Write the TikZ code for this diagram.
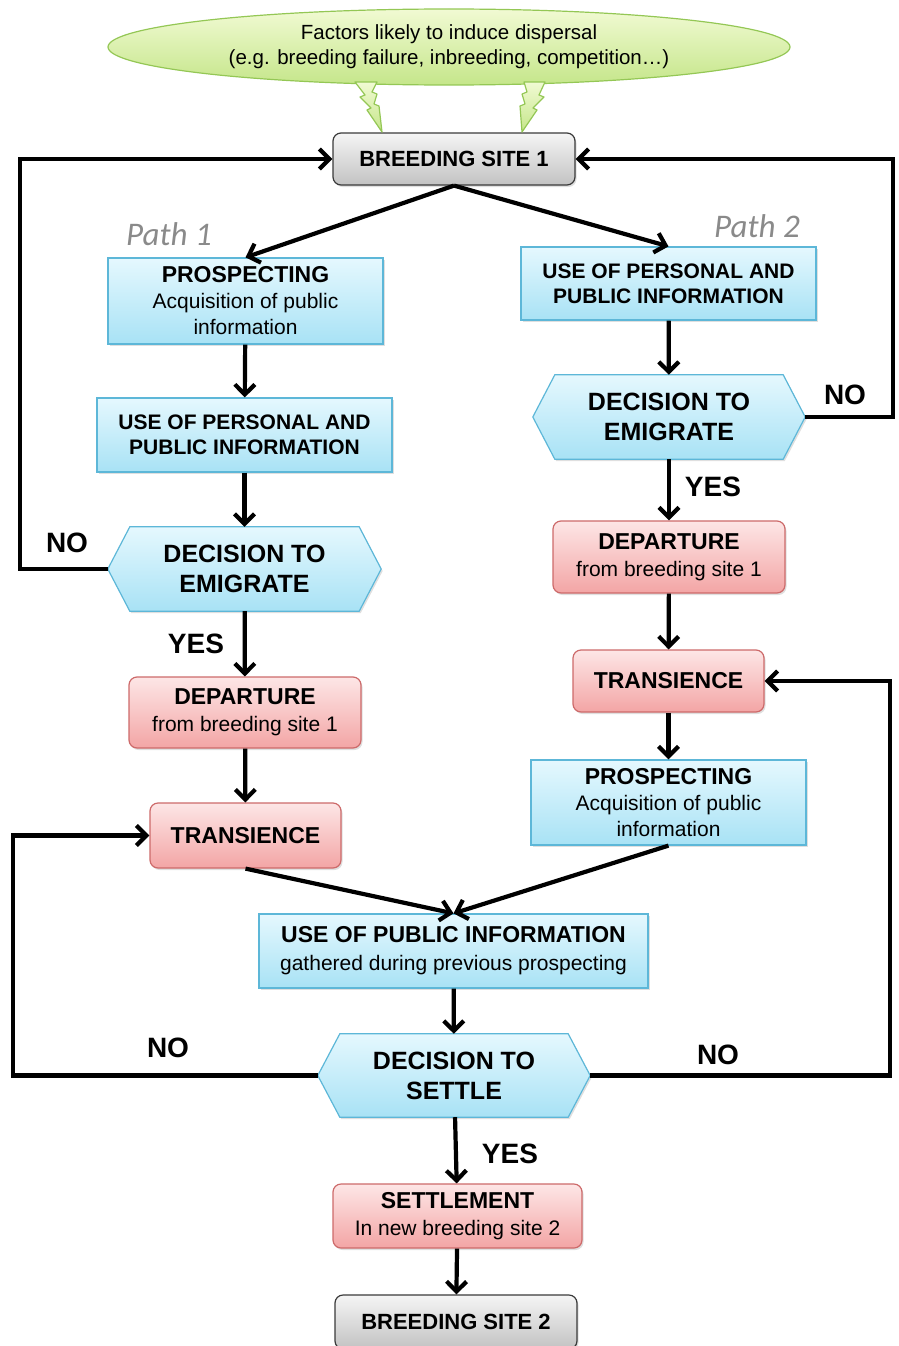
\documentclass[tikz,border=0pt]{standalone}
\usepackage{fontspec}
\setmainfont{Liberation Sans}
\newfontfamily\pathfont{Carlito}
\usetikzlibrary{arrows.meta,shadows,backgrounds,shapes.geometric}
\definecolor{bluetop}{HTML}{E5F8FE}
\definecolor{bluebot}{HTML}{A8E2F5}
\definecolor{blueline}{HTML}{5DB7D8}
\definecolor{pinktop}{HTML}{FDE6E6}
\definecolor{pinkbot}{HTML}{F3A5A5}
\definecolor{pinkline}{HTML}{CD6A6A}
\definecolor{greytop}{HTML}{F5F5F5}
\definecolor{greybot}{HTML}{C2C2C2}
\definecolor{greyline}{HTML}{3A3A3A}
\definecolor{greentop}{HTML}{F1FAD3}
\definecolor{greenbot}{HTML}{C5E68A}
\definecolor{greenline}{HTML}{94C755}
\definecolor{pathgrey}{HTML}{8A8A8A}
\newcommand\ttl[1]{{\fontsize{23}{26}\selectfont\bfseries #1}}
\newcommand\myhex[1]{%
  \shade[hexfill] (#1.west) -- ([xshift=22pt]#1.north west) -- ([xshift=-22pt]#1.north east)
   -- (#1.east) -- ([xshift=-22pt]#1.south east) -- ([xshift=22pt]#1.south west) -- cycle;}
\begin{document}
\begin{tikzpicture}[x=1pt,y=-1pt,
  arr/.style={line width=4.2pt, -{Straight Barb[length=10pt,width=20pt]}},
  shd/.style={drop shadow={opacity=0.25, shadow xshift=1.5pt, shadow yshift=-2pt}},
  basebox/.style={rectangle, inner sep=0pt, align=center, line width=1.2pt, shd,
    font=\fontsize{21}{26}\selectfont},
  bluebox/.style={basebox, draw=blueline, top color=bluetop, bottom color=bluebot},
  pinkbox/.style={basebox, draw=pinkline, top color=pinktop, bottom color=pinkbot, rounded corners=8pt},
  greybox/.style={basebox, draw=greyline, top color=greytop, bottom color=greybot, rounded corners=8pt,
    font=\fontsize{22}{26}\selectfont\bfseries},
  hexnode/.style={rectangle, inner sep=0pt, align=center, font=\fontsize{25}{30}\selectfont\bfseries},
  hexfill/.style={draw=blueline, line width=1.2pt, top color=bluetop, bottom color=bluebot, shd},
  lbl/.style={font=\fontsize{28}{30}\selectfont\bfseries, inner sep=0pt},
  pathlbl/.style={font=\pathfont\itshape\fontsize{33}{33}\selectfont, text=pathgrey, inner sep=0pt},
  bolt/.style={draw=greenline, line width=1.2pt, top color=greentop, bottom color=greenbot, line join=round}
]
\useasboundingbox (0,0) rectangle (898,1346);

% top factors
\node[ellipse, draw=greenline, line width=1.2pt, top color=greentop, bottom color=greenbot,
  minimum width=682pt, minimum height=76pt, inner sep=0pt, align=center,
  font=\fontsize{20.5}{25}\selectfont] (fac) at (449,47)
  {Factors likely to induce dispersal\\(e.g. breeding failure, inbreeding, competition…)};

\node[greybox, minimum width=242pt, minimum height=52pt] (bs1) at (454,159) {BREEDING SITE 1};

% lightning bolts
\shade[bolt] (382,132) -- (367,110) -- (371,108) -- (360,97) -- (365,95) -- (355,82)
  -- (377,82) -- (372,92) -- (377,94) -- (374,104) -- (379,106) -- cycle;
\shade[bolt] (522,132) -- (537,110) -- (533,108) -- (544,97) -- (539,95) -- (545,82)
  -- (524,82) -- (527,92) -- (522,94) -- (525,104) -- (520,106) -- cycle;

% path labels
\node[pathlbl] (path1) at (169,234) {Path 1};
\node[pathlbl] (path2) at (757,226) {Path 2};

% path 1
\node[bluebox, minimum width=275pt, minimum height=86pt] (p1pros) at (245.5,301)
  {\ttl{PROSPECTING}\\Acquisition of public\\information};
\node[bluebox, minimum width=295pt, minimum height=74pt, font=\fontsize{21}{25}\selectfont\bfseries] (p1use) at (244.5,435)
  {USE OF PERSONAL AND\\PUBLIC INFORMATION};
\node[hexnode, minimum width=273pt, minimum height=84pt] (p1dec) at (244.5,569) {DECISION TO\\EMIGRATE};
\node[pinkbox, minimum width=232pt, minimum height=71pt, font=\fontsize{21}{27}\selectfont] (p1dep) at (245,712.5)
  {\ttl{DEPARTURE}\\from breeding site 1};
\node[pinkbox, minimum width=191pt, minimum height=65pt] (p1tra) at (245.5,835.5) {\ttl{TRANSIENCE}};

% path 2
\node[bluebox, minimum width=295pt, minimum height=73pt, font=\fontsize{21}{25}\selectfont\bfseries] (p2use) at (668.5,283.5)
  {USE OF PERSONAL AND\\PUBLIC INFORMATION};
\node[hexnode, minimum width=272pt, minimum height=84pt] (p2dec) at (669,417) {DECISION TO\\EMIGRATE};
\node[pinkbox, minimum width=232pt, minimum height=72pt, font=\fontsize{21}{27}\selectfont] (p2dep) at (669,557)
  {\ttl{DEPARTURE}\\from breeding site 1};
\node[pinkbox, minimum width=191pt, minimum height=62pt] (p2tra) at (668.5,681) {\ttl{TRANSIENCE}};
\node[bluebox, minimum width=275pt, minimum height=85pt] (p2pros) at (668.5,802.5)
  {\ttl{PROSPECTING}\\Acquisition of public\\information};

% common
\node[bluebox, minimum width=389pt, minimum height=74pt, font=\fontsize{21}{28}\selectfont] (usepub) at (453.5,951)
  {\ttl{USE OF PUBLIC INFORMATION}\\gathered during previous prospecting};
\node[hexnode, minimum width=272pt, minimum height=83pt] (decset) at (454,1075.5) {DECISION TO\\SETTLE};
\node[pinkbox, minimum width=249pt, minimum height=64pt, font=\fontsize{21}{27}\selectfont] (settle) at (457.5,1216)
  {\ttl{SETTLEMENT}\\In new breeding site 2};
\node[greybox, minimum width=242pt, minimum height=54pt] (bs2) at (456,1322) {BREEDING SITE 2};

\begin{pgfonlayer}{background}
  \myhex{p1dec}
  \myhex{p2dec}
  \myhex{decset}
\end{pgfonlayer}

% loop coordinates
\coordinate (xL) at (20,0);
\coordinate (xLL) at (13,0);
\coordinate (xR) at (893,0);
\coordinate (xRR) at (890,0);

% connectors
\draw[arr] (bs1.south) -- (p1pros.north);
\draw[arr] (bs1.south) -- (p2use.north);
\draw[arr] (p1pros) -- (p1use);
\draw[arr] (p1use) -- (p1dec);
\draw[arr] (p1dec) -- (p1dep);
\draw[arr] (p1dep) -- (p1tra);
\draw[arr] (p2use) -- (p2dec);
\draw[arr] (p2dec) -- (p2dep);
\draw[arr] (p2dep) -- (p2tra);
\draw[arr] (p2tra) -- (p2pros);
\draw[arr] (p1tra.south) -- (usepub.north);
\draw[arr] (p2pros.south) -- (usepub.north);
\draw[arr] (usepub) -- (decset);
\draw[arr] (decset) -- (settle);
\draw[arr] (settle) -- (bs2);
\draw[arr] (p1dec.west) -- (p1dec.west -| xL) |- (bs1.west);
\draw[arr] (p2dec.east) -- (p2dec.east -| xR) |- (bs1.east);
\draw[arr] (decset.west) -- (decset.west -| xLL) |- (p1tra.west);
\draw[arr] (decset.east) -- (decset.east -| xRR) |- (p2tra.east);

% labels
\node[lbl] (no1) at (67,543) {NO};
\node[lbl] (no2) at (845,395) {NO};
\node[lbl] (yes1) at (196,644) {YES};
\node[lbl] (yes2) at (713,487) {YES};
\node[lbl] (no3) at (168,1048) {NO};
\node[lbl] (no4) at (718,1055) {NO};
\node[lbl] (yes3) at (510,1154) {YES};
\end{tikzpicture}
\end{document}
